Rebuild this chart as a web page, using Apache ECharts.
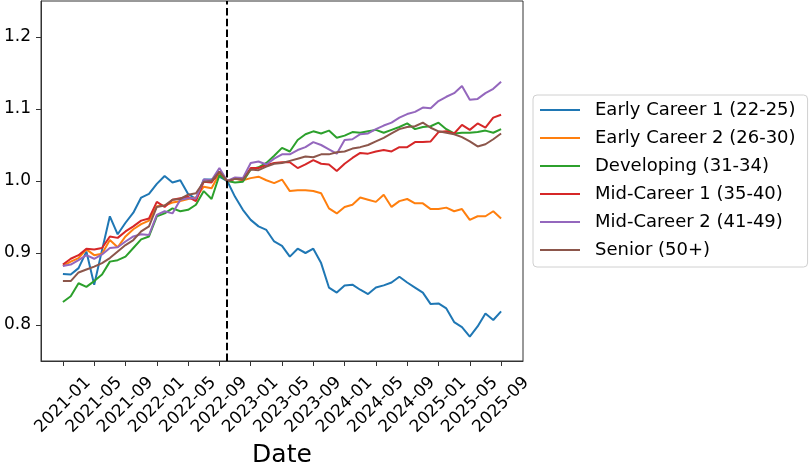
<!DOCTYPE html>
<html>
<head>
<meta charset="utf-8">
<script src="https://cdn.jsdelivr.net/npm/echarts@6/dist/echarts.min.js"></script>
<style>
  html, body { margin: 0; padding: 0; background: #fff; }
  #chart { width: 811px; height: 468px; }
</style>
</head>
<body>
<div id="chart"></div>
<script>
const months = [
  '2021-01','2021-02','2021-03','2021-04','2021-05','2021-06','2021-07','2021-08','2021-09','2021-10','2021-11','2021-12',
  '2022-01','2022-02','2022-03','2022-04','2022-05','2022-06','2022-07','2022-08','2022-09','2022-10','2022-11','2022-12',
  '2023-01','2023-02','2023-03','2023-04','2023-05','2023-06','2023-07','2023-08','2023-09','2023-10','2023-11','2023-12',
  '2024-01','2024-02','2024-03','2024-04','2024-05','2024-06','2024-07','2024-08','2024-09','2024-10','2024-11','2024-12',
  '2025-01','2025-02','2025-03','2025-04','2025-05','2025-06','2025-07','2025-08','2025-09'
];
const xTickIndex = [0, 4, 8, 12, 16, 20, 24, 28, 32, 36, 40, 44, 48, 52, 56];
const yTicks = [0.8, 0.9, 1.0, 1.1, 1.2];
const baseIndex = 21; // 2022-10

const seriesNames = [
  'Early Career 1 (22-25)', 'Early Career 2 (26-30)', 'Developing (31-34)',
  'Mid-Career 1 (35-40)', 'Mid-Career 2 (41-49)', 'Senior (50+)'
];
const seriesColors = ['#1f77b4', '#ff7f0e', '#2ca02c', '#d62728', '#9467bd', '#8c564b'];

const earlyCareer1 = [
  0.871, 0.870, 0.879, 0.902, 0.856, 0.904, 0.951, 0.926, 0.942, 0.956, 0.977, 0.982,
  0.996, 1.007, 0.998, 1.001, 0.982, 0.975, 1.002, 1.002, 1.006, 1.000, 0.978, 0.960,
  0.946, 0.937, 0.932, 0.916, 0.910, 0.895, 0.906, 0.900, 0.906, 0.886, 0.852, 0.845,
  0.855, 0.856, 0.849, 0.843, 0.852, 0.855, 0.859, 0.867, 0.859, 0.852, 0.845, 0.829,
  0.830, 0.823, 0.804, 0.797, 0.784, 0.798, 0.816, 0.807, 0.819
];
const earlyCareer2 = [
  0.882, 0.888, 0.893, 0.905, 0.897, 0.899, 0.918, 0.908, 0.923, 0.933, 0.940, 0.945,
  0.965, 0.966, 0.970, 0.972, 0.975, 0.977, 0.992, 0.990, 1.010, 1.000, 1.003, 1.001,
  1.004, 1.006, 1.001, 0.997, 1.002, 0.986, 0.987, 0.987, 0.986, 0.983, 0.962, 0.955,
  0.964, 0.967, 0.977, 0.974, 0.971, 0.981, 0.964, 0.972, 0.975, 0.969, 0.969, 0.961,
  0.961, 0.963, 0.958, 0.961, 0.946, 0.951, 0.951, 0.958, 0.948
];
const developing = [
  0.832, 0.840, 0.858, 0.853, 0.861, 0.870, 0.888, 0.890, 0.895, 0.907, 0.919, 0.923,
  0.951, 0.955, 0.962, 0.958, 0.960, 0.967, 0.986, 0.975, 1.008, 1.000, 0.998, 0.999,
  1.016, 1.019, 1.025, 1.035, 1.046, 1.041, 1.057, 1.065, 1.069, 1.066, 1.070, 1.060,
  1.063, 1.068, 1.067, 1.069, 1.071, 1.067, 1.071, 1.075, 1.080, 1.072, 1.075, 1.076,
  1.081, 1.072, 1.066, 1.067, 1.067, 1.068, 1.070, 1.067, 1.072
];
const midCareer1 = [
  0.884, 0.892, 0.897, 0.906, 0.905, 0.907, 0.923, 0.921, 0.930, 0.937, 0.945, 0.948,
  0.971, 0.964, 0.974, 0.976, 0.978, 0.972, 0.999, 0.998, 1.013, 1.000, 1.003, 1.002,
  1.018, 1.018, 1.022, 1.025, 1.026, 1.026, 1.018, 1.023, 1.029, 1.024, 1.023, 1.014,
  1.024, 1.032, 1.039, 1.038, 1.041, 1.043, 1.041, 1.047, 1.047, 1.054, 1.054, 1.055,
  1.068, 1.069, 1.066, 1.078, 1.071, 1.080, 1.074, 1.088, 1.092
];
const midCareer2 = [
  0.882, 0.884, 0.890, 0.897, 0.892, 0.898, 0.907, 0.908, 0.916, 0.923, 0.926, 0.925,
  0.953, 0.958, 0.955, 0.974, 0.976, 0.976, 1.002, 1.001, 1.018, 1.000, 1.005, 1.004,
  1.025, 1.027, 1.023, 1.031, 1.037, 1.037, 1.043, 1.047, 1.054, 1.050, 1.044, 1.038,
  1.057, 1.058, 1.065, 1.066, 1.072, 1.077, 1.081, 1.088, 1.093, 1.096, 1.102, 1.101,
  1.111, 1.117, 1.122, 1.132, 1.113, 1.114, 1.122, 1.128, 1.138
];
const senior = [
  0.861, 0.861, 0.873, 0.877, 0.881, 0.886, 0.893, 0.902, 0.911, 0.918, 0.930, 0.937,
  0.964, 0.966, 0.974, 0.975, 0.981, 0.983, 0.999, 1.000, 1.013, 1.000, 1.003, 1.002,
  1.016, 1.015, 1.020, 1.024, 1.025, 1.028, 1.031, 1.034, 1.033, 1.037, 1.037, 1.040,
  1.041, 1.045, 1.047, 1.050, 1.055, 1.060, 1.066, 1.072, 1.075, 1.076, 1.081, 1.074,
  1.069, 1.067, 1.065, 1.061, 1.055, 1.048, 1.051, 1.058, 1.066
];

const allValues = [earlyCareer1, earlyCareer2, developing, midCareer1, midCareer2, senior];
const FONT = 'DejaVu Sans';

const chart = echarts.init(document.getElementById('chart'), null, { renderer: 'canvas' });

const series = allValues.map((vals, k) => ({
  name: seriesNames[k],
  type: 'line',
  data: vals.map((v, i) => [i, v]),
  symbol: 'none',
  showSymbol: false,
  lineStyle: { color: seriesColors[k], width: 2 },
  itemStyle: { color: seriesColors[k] },
  emphasis: { disabled: true },
  animation: false
}));
series[series.length - 1].markLine = {
  silent: true,
  symbol: ['none', 'none'],
  label: { show: false },
  lineStyle: { color: '#000', type: [7.5, 3.3], width: 2 },
  data: [{ xAxis: baseIndex }],
  animation: false
};

chart.setOption({
  animation: false,
  backgroundColor: '#fff',
  textStyle: { fontFamily: FONT },
  grid: {
    left: 41, top: 1, width: 482, height: 360,
    containLabel: false,
    outerBoundsMode: 'none',
    show: true, borderColor: '#333', borderWidth: 1, backgroundColor: 'transparent'
  },
  legend: {
    orient: 'vertical',
    left: 533, top: 95,
    data: seriesNames,
    icon: 'rect',
    itemWidth: 40, itemHeight: 2,
    itemGap: 8,
    padding: [5, 12, 7, 7],
    borderColor: '#d0d0d0', borderWidth: 1, borderRadius: 4,
    backgroundColor: '#fff',
    textStyle: { fontFamily: FONT, fontSize: 18, color: '#000', lineHeight: 20, padding: [0, 0, 0, 10] },
    selectedMode: false
  },
  xAxis: {
    type: 'value',
    min: -2.8, max: 58.8,
    name: 'Date',
    nameLocation: 'middle',
    nameGap: 78,
    nameTextStyle: { fontFamily: FONT, fontSize: 25, color: '#000' },
    splitLine: { show: false },
    axisLine: { show: true, onZero: false, lineStyle: { color: '#333', width: 1 } },
    axisTick: { show: true, length: 5, lineStyle: { color: '#333' }, customValues: xTickIndex },
    axisLabel: {
      customValues: xTickIndex,
      formatter: v => months[Math.round(v)],
      rotate: 45,
      align: 'center',
      verticalAlign: 'middle',
      margin: 44,
      fontFamily: FONT, fontSize: 17, color: '#000'
    }
  },
  yAxis: {
    type: 'value',
    min: 0.75, max: 1.25,
    splitLine: { show: false },
    axisLine: { show: true, onZero: false, lineStyle: { color: '#333', width: 1 } },
    axisTick: { show: true, length: 5, lineStyle: { color: '#333' }, customValues: yTicks },
    axisLabel: {
      customValues: yTicks,
      formatter: v => v.toFixed(1),
      margin: 10,
      fontFamily: FONT, fontSize: 17, color: '#000'
    }
  },
  series: series
});
</script>
</body>
</html>
